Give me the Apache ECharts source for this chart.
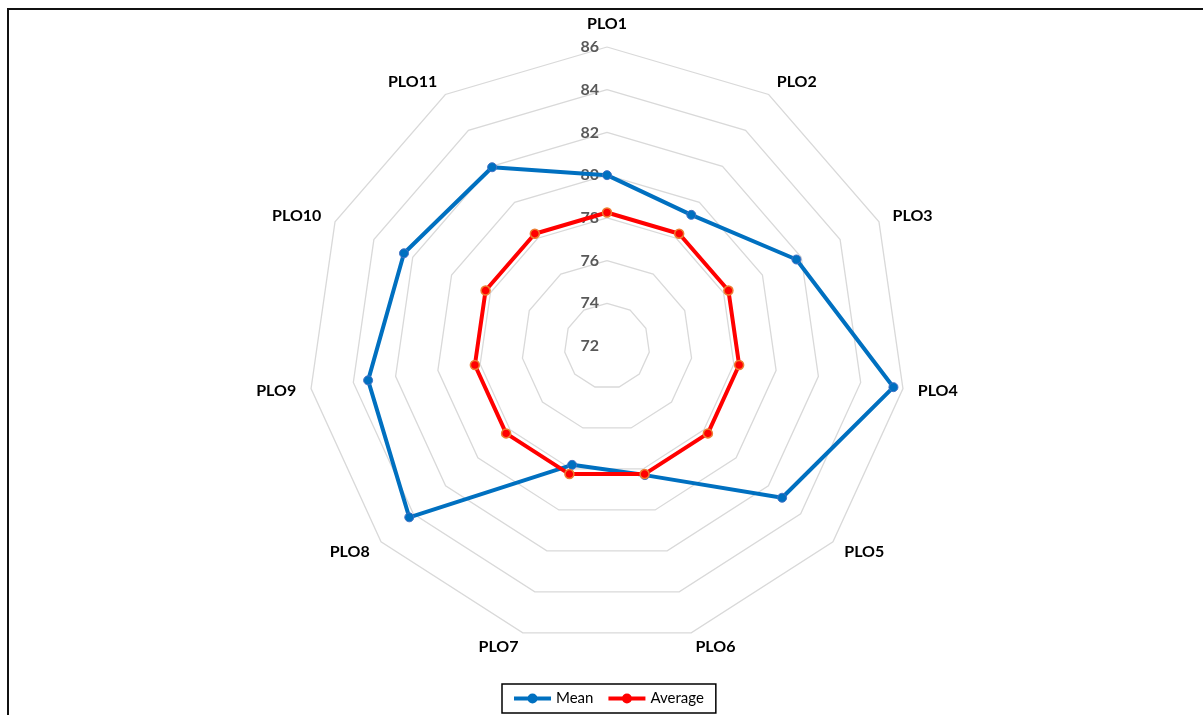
<!DOCTYPE html>
<html>
<head>
<meta charset="utf-8">
<script src="https://cdn.jsdelivr.net/npm/echarts/dist/echarts.min.js"></script>
<style>
  html, body { margin: 0; padding: 0; background: #fff; }
  #main { width: 1203px; height: 715px; }
  #frame {
    position: absolute; left: 7px; top: 8px; width: 1196px; height: 707px;
    border-top: 2px solid #111; border-left: 2px solid #111; pointer-events: none;
  }
</style>
</head>
<body>
<div id="main"></div>
<div id="frame"></div>
<script>
// axis names (clockwise from the top)
var plos = ['PLO1', 'PLO2', 'PLO3', 'PLO4', 'PLO5', 'PLO6', 'PLO7', 'PLO8', 'PLO9', 'PLO10', 'PLO11'];
// series values
var meanVals = [80.0, 79.3, 81.75, 85.55, 82.85, 78.3, 77.8, 84.25, 83.3, 82.45, 81.95];
var averageVals = [78.25, 78.25, 78.25, 78.25, 78.25, 78.25, 78.25, 78.25, 78.25, 78.25, 78.25];
var axisMin = 72;
var axisMax = 86;

// echarts lays indicators out counter-clockwise, so walk the list backwards after the first one
var order = [0];
for (var k = plos.length - 1; k > 0; k--) order.push(k);
const pick = (arr) => order.map(function (i) { return arr[i]; });

var legendIcon = 'path://M0,3L37,3L37,7L0,7Z M18.5,0A5,5 0 1 1 18.5,10A5,5 0 1 1 18.5,0Z';

var myChart = echarts.init(document.getElementById('main'));

var option = {
    animation: false,
    legend: {
        left: 502,
        top: 684,
        padding: [7, 12],
        itemGap: 15,
        itemWidth: 37,
        itemHeight: 10,
        borderColor: '#000',
        borderWidth: 1.5,
        textStyle: { color: '#000', fontFamily: 'Lato', fontSize: 15 },
        data: [
            { name: 'Mean', icon: legendIcon, itemStyle: { color: '#0070C0', borderWidth: 0 } },
            { name: 'Average', icon: legendIcon, itemStyle: { color: '#FF0000', borderWidth: 0 } }
        ]
    },
    radar: {
        center: [607, 346],
        radius: 299,
        startAngle: 90,
        splitNumber: 7,
        shape: 'polygon',
        nameGap: 15,
        axisName: {
            color: '#000',
            fontFamily: 'Lato',
            fontWeight: 'bold',
            fontSize: 16
        },
        indicator: pick(plos).map(function (p, i) {
            var ind = { name: p, min: axisMin, max: axisMax };
            if (i === 0) {
                ind.axisLabel = {
                    show: true,
                    color: '#595959',
                    fontFamily: 'Lato',
                    fontWeight: 'bold',
                    fontSize: 16,
                    margin: 8
                };
            }
            return ind;
        }),
        splitLine: { lineStyle: { color: '#d9d9d9', width: 1.3 } },
        splitArea: { show: false },
        axisLine: { show: false },
        axisTick: { show: false },
        axisLabel: { show: false }
    },
    series: [
        {
            type: 'radar',
            symbol: 'circle',
            symbolSize: 9,
            data: [
                {
                    name: 'Mean',
                    value: pick(meanVals),
                    lineStyle: { color: '#0070C0', width: 4 },
                    itemStyle: { color: '#0070C0', borderColor: '#4472C4', borderWidth: 1 }
                },
                {
                    name: 'Average',
                    value: pick(averageVals),
                    lineStyle: { color: '#FF0000', width: 4 },
                    itemStyle: { color: '#FF0000', borderColor: '#ED7D31', borderWidth: 1.5 }
                }
            ]
        }
    ]
};

myChart.setOption(option);
</script>
</body>
</html>
